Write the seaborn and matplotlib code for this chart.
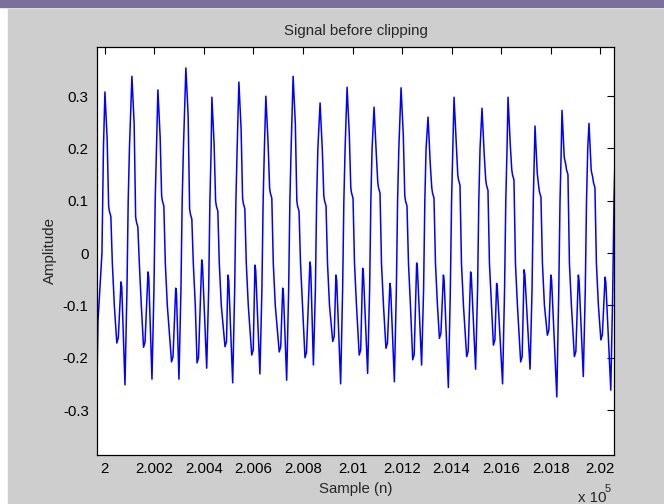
import pandas as pd
import seaborn as sns
import matplotlib.pyplot as plt
from matplotlib.patches import Rectangle
from matplotlib.ticker import FuncFormatter, MultipleLocator

sns.set_style('white')
plt.rcParams['font.family'] = ['Liberation Sans', 'DejaVu Sans']

# values (sample index, amplitude)
lead_n = [199968, 199972, 199988, 199994]
lead_v = [-0.245, -0.13, 0.0, 0.2]

peak_n = [200000, 200109, 200214, 200327, 200432, 200541, 200650, 200760, 200869, 200978,
          201087, 201196, 201305, 201410, 201523, 201628, 201737, 201846, 201955]
peak_v = [0.308, 0.338, 0.312, 0.354, 0.298, 0.327, 0.300, 0.338, 0.287, 0.317,
          0.279, 0.316, 0.260, 0.298, 0.277, 0.298, 0.243, 0.273, 0.248]
shoulder_v = [0.08, 0.06, 0.10, 0.075, 0.09, 0.095, 0.115, 0.09, 0.10, 0.115,
              0.125, 0.10, 0.115, 0.14, 0.13, 0.15, 0.117, 0.16, 0.135]
dip_n = [200048, 200156, 200269, 200372, 200485, 200593, 200704, 200808, 200920, 201027,
         201135, 201243, 201351, 201461, 201569, 201679, 201787, 201896, 202003]
dip_v = [-0.172, -0.18, -0.208, -0.21, -0.179, -0.195, -0.189, -0.20, -0.169, -0.195,
         -0.182, -0.204, -0.163, -0.198, -0.176, -0.208, -0.157, -0.198, -0.166]
bump_n = [200065, 200174, 200286, 200391, 200497, 200606, 200718, 200828, 200933, 201041,
          201151, 201259, 201367, 201477, 201582, 201693, 201801, 201912, 202020]
bump_v = [-0.055, -0.036, -0.067, -0.013, -0.042, -0.023, -0.067, -0.017, -0.042, -0.029,
          -0.058, -0.019, -0.042, -0.036, -0.058, -0.032, -0.042, -0.042, -0.046]
trough_n = [200081, 200190, 200299, 200411, 200516, 200626, 200734, 200842, 200952, 201061,
            201169, 201279, 201387, 201497, 201606, 201717, 201825, 201932, 202043]
trough_v = [-0.252, -0.241, -0.241, -0.22, -0.248, -0.231, -0.243, -0.214, -0.25, -0.23,
            -0.246, -0.214, -0.257, -0.222, -0.25, -0.222, -0.275, -0.236, -0.262]

# assemble the polyline, one cycle at a time
xs, ys = list(lead_n), list(lead_v)
for i in range(len(peak_n)):
    p, P, S = peak_n[i], peak_v[i], shoulder_v[i]
    xs += [p, p + 4, p + 9, p + 15, p + 18, p + 24, p + 30, p + 38,
           dip_n[i], dip_n[i] + 6, bump_n[i], bump_n[i] + 3,
           trough_n[i], trough_n[i] + 8, trough_n[i] + 13, trough_n[i] + 18]
    ys += [P, P - 0.04, P - 0.09, S + 0.01, S, S - 0.01, -0.02, -0.10,
           dip_v[i], dip_v[i] + 0.01, bump_v[i], bump_v[i] - 0.01,
           trough_v[i], -0.07, 0.10, 0.20]
df = pd.DataFrame({'n': xs, 'amp': ys})

fig = plt.figure(figsize=(6.64, 5.04), dpi=100, facecolor='white')
fig.patches.append(Rectangle((8 / 664, 0), 1 - 8 / 664, 1 - 9 / 504, transform=fig.transFigure,
                             color='#cecece', zorder=-10))
fig.patches.append(Rectangle((0, 1 - 7 / 504), 1, 7 / 504, transform=fig.transFigure,
                             color='#7b6f9c', zorder=-9))
ax = fig.add_axes([97 / 664, 1 - 455 / 504, 517 / 664, 408 / 504])
ax.set_facecolor('white')

sns.lineplot(data=df, x='n', y='amp', ax=ax, color='#0000ff', linewidth=1.1,
             estimator=None, sort=False)

ax.set_xlim(199968, 202056)
ax.set_ylim(-0.386, 0.394)
ax.xaxis.set_major_locator(MultipleLocator(200))
ax.yaxis.set_major_locator(MultipleLocator(0.1))
ax.xaxis.set_major_formatter(FuncFormatter(lambda v, _: '%g' % round(v / 1e5, 4)))
ax.yaxis.set_major_formatter(FuncFormatter(lambda v, _: '%g' % (round(v, 2) + 0.0)))

ax.tick_params(direction='in', top=True, right=True, length=5, width=0.8,
               labelsize=10.8, colors='black')
ax.tick_params(axis='x', pad=5)
ax.tick_params(axis='y', pad=6)
for sp in ax.spines.values():
    sp.set_color('black')
    sp.set_linewidth(0.9)

ax.set_title('Signal before clipping', fontsize=10.8, pad=8.5)
ax.set_xlabel('Sample (n)', fontsize=10.8)
ax.set_ylabel('Amplitude', fontsize=10.8)
ax.xaxis.set_label_coords(0.5, -0.066)
ax.yaxis.set_label_coords(-0.077, 0.5)

fig.text(578 / 664, 2 / 504, 'x 10', fontsize=10.8, ha='left', va='baseline')
fig.text(605 / 664, 12 / 504, '5', fontsize=8, ha='left', va='baseline')

fig.savefig('out.png', dpi=100)
